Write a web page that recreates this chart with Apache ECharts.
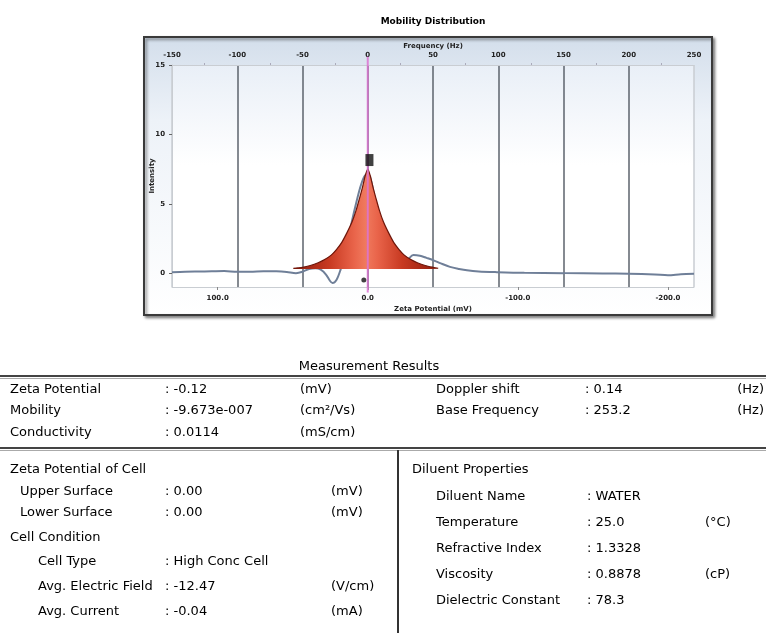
<!DOCTYPE html>
<html>
<head>
<meta charset="utf-8">
<script src="https://cdn.jsdelivr.net/npm/echarts@6/dist/echarts.min.js"></script>
<style>
html, body { margin: 0; padding: 0; background: #fff; }
#main { width: 766px; height: 633px; }
</style>
</head>
<body>
<div id="main"></div>
<script>
// axes
var freqMin = -150, freqMax = 250, freqStep = 50;
var hzPerMv = 1.15;
var zetaTicks = [100, 0, -100, -200];
var intensityTicks = [0, 5, 10, 15];

// measured spectrum (Hz, intensity)
var rawFreq = [-150,-140,-125,-110,-100,-90,-80,-70,-62,-55,-50,-45,-40,-36,-32,-29,-27,-24,-21,-18,-15,-12,-9,-6,-3,0,3,6,10,15,20,25,29,32,35,40,45,50,56,63,70,76,85,99,120,150,180,200,220,230,240,250];
var rawIntensity = [0.07,0.1,0.12,0.15,0.1,0.1,0.14,0.13,0.08,0.0,0.1,0.3,0.35,0.25,-0.1,-0.55,-0.72,-0.5,0.2,1.2,2.5,3.8,5.0,6.1,6.9,7.2,6.5,5.0,3.3,2.0,1.2,0.75,0.7,1.1,1.3,1.25,1.1,0.94,0.7,0.45,0.3,0.2,0.12,0.07,0.02,0.0,-0.02,-0.05,-0.1,-0.15,-0.08,-0.05];

// fitted peak
var peakFreq = [-57,-50,-44,-38,-33,-28,-24,-20,-16,-12,-9,-6,-4,-2,0,2,4,6,9,12,16,20,24,28,33,38,44,50,54];
var peakIntensity = [0.35,0.42,0.55,0.75,0.98,1.3,1.7,2.2,2.9,3.7,4.5,5.5,6.2,7.0,7.5,7.0,6.2,5.5,4.5,3.7,2.9,2.2,1.7,1.3,0.98,0.75,0.55,0.42,0.35];
var peakBase = 0.3;
var peakMarker = [1.3, 8.15];
var zeroMarker = [-3, -0.5];
var centerLine = [[0, -1.4], [0, 15.6]];

// measurement results table
var resultLabels = ['Zeta Potential', 'Mobility', 'Conductivity'];
var resultValues = [': -0.12', ': -9.673e-007', ': 0.0114'];
var resultUnits = ['(mV)', '(cm²/Vs)', '(mS/cm)'];
var freqLabels = ['Doppler shift', 'Base Frequency'];
var freqValues = [': 0.14', ': 253.2'];
var freqUnits = ['(Hz)', '(Hz)'];
var cellLabels = ['Zeta Potential of Cell', 'Upper Surface', 'Lower Surface', 'Cell Condition', 'Cell Type', 'Avg. Electric Field', 'Avg. Current'];
var cellValues = ['', ': 0.00', ': 0.00', '', ': High Conc Cell', ': -12.47', ': -0.04'];
var cellUnits = ['', '(mV)', '(mV)', '', '', '(V/cm)', '(mA)'];
var diluentLabels = ['Diluent Properties', 'Diluent Name', 'Temperature', 'Refractive Index', 'Viscosity', 'Dielectric Constant'];
var diluentValues = ['', ': WATER', ': 25.0', ': 1.3328', ': 0.8878', ': 78.3'];
var diluentUnits = ['', '', '(°C)', '', '(cP)', ''];

function pairs(xs, ys) {
    return xs.map(function (x, i) { return [x, ys[i]]; });
}

var tableFont = '13px "DejaVu Sans", sans-serif';
var tinyFont = { fontSize: 7, fontWeight: 'bold', color: '#222', fontFamily: 'DejaVu Sans' };

function txt(s, x, y, extra) {
    var style = { text: s, x: x, y: y, font: tableFont, fill: '#000', textVerticalAlign: 'middle' };
    for (var k in extra || {}) style[k] = extra[k];
    return { type: 'text', silent: true, style: style };
}

var graphics = [
    // outer frame of the chart
    {
        type: 'rect', z: -10, silent: true,
        shape: { x: 144, y: 37, width: 568, height: 278 },
        style: {
            fill: new echarts.graphic.LinearGradient(0, 0, 0, 1, [
                { offset: 0, color: '#d3deeb' },
                { offset: 0.3, color: '#edf2f8' },
                { offset: 1, color: '#ffffff' }
            ]),
            stroke: '#3a3a3a', lineWidth: 2,
            shadowBlur: 3, shadowColor: 'rgba(0,0,0,0.45)', shadowOffsetX: 2, shadowOffsetY: 2
        }
    },
    // plot background
    {
        type: 'rect', z: -9, silent: true,
        shape: { x: 172, y: 65, width: 522, height: 222 },
        style: {
            fill: new echarts.graphic.LinearGradient(0, 0, 0, 1, [
                { offset: 0, color: '#e9eff7' },
                { offset: 0.45, color: '#ffffff' },
                { offset: 1, color: '#ffffff' }
            ])
        }
    },
    txt('Mobility Distribution', 433, 22, { font: 'bold 9px "DejaVu Sans", sans-serif', textAlign: 'center' }),
    txt('Measurement Results', 369, 367, { textAlign: 'center' }),
    // table rules
    { type: 'line', silent: true, shape: { x1: 0, y1: 376, x2: 766, y2: 376 }, style: { stroke: '#444', lineWidth: 2 } },
    { type: 'line', silent: true, shape: { x1: 0, y1: 378.5, x2: 766, y2: 378.5 }, style: { stroke: '#aaa', lineWidth: 1 } },
    { type: 'line', silent: true, shape: { x1: 0, y1: 448, x2: 766, y2: 448 }, style: { stroke: '#444', lineWidth: 2 } },
    { type: 'line', silent: true, shape: { x1: 0, y1: 450.5, x2: 766, y2: 450.5 }, style: { stroke: '#aaa', lineWidth: 1 } },
    { type: 'line', silent: true, shape: { x1: 398, y1: 450, x2: 398, y2: 633 }, style: { stroke: '#333', lineWidth: 2 } }
];

var resultRowY = [390, 411, 433];
resultLabels.forEach(function (s, i) {
    graphics.push(txt(s, 10, resultRowY[i]));
    graphics.push(txt(resultValues[i], 165, resultRowY[i]));
    graphics.push(txt(resultUnits[i], 300, resultRowY[i]));
});
freqLabels.forEach(function (s, i) {
    graphics.push(txt(s, 436, resultRowY[i]));
    graphics.push(txt(freqValues[i], 585, resultRowY[i]));
    graphics.push(txt(freqUnits[i], 764, resultRowY[i], { textAlign: 'right' }));
});

var cellRowY = [470, 492, 513, 538, 562, 587, 612];
var cellIndent = [10, 20, 20, 10, 38, 38, 38];
cellLabels.forEach(function (s, i) {
    graphics.push(txt(s, cellIndent[i], cellRowY[i]));
    if (cellValues[i]) graphics.push(txt(cellValues[i], 165, cellRowY[i]));
    if (cellUnits[i]) graphics.push(txt(cellUnits[i], 331, cellRowY[i]));
});

var diluentRowY = [470, 497, 523, 549, 575, 601];
var diluentIndent = [412, 436, 436, 436, 436, 436];
diluentLabels.forEach(function (s, i) {
    graphics.push(txt(s, diluentIndent[i], diluentRowY[i]));
    if (diluentValues[i]) graphics.push(txt(diluentValues[i], 587, diluentRowY[i]));
    if (diluentUnits[i]) graphics.push(txt(diluentUnits[i], 705, diluentRowY[i]));
});

// vertical grid colour per frequency tick: border ticks pale, inner ones dark
var gridColors = [];
for (var f = freqMin; f <= freqMax; f += freqStep) {
    gridColors.push(f === freqMin || f === freqMax ? '#c9cdd2' : '#5c636d');
}

var chart = echarts.init(document.getElementById('main'), null, { renderer: 'canvas' });

chart.setOption({
    animation: false,
    backgroundColor: '#fff',
    graphic: graphics,
    grid: { left: 172, top: 65, right: 72, bottom: 346, containLabel: false },
    xAxis: [
        {
            type: 'value', position: 'top',
            min: freqMin, max: freqMax, interval: freqStep,
            name: 'Frequency (Hz)', nameLocation: 'middle', nameGap: 15, nameMoveOverlap: false,
            nameTextStyle: tinyFont,
            axisLine: { show: true, onZero: false, lineStyle: { color: '#c9cdd2', width: 1 } },
            axisTick: { show: false },
            minorTick: { show: true, splitNumber: 2, length: 2, lineStyle: { color: '#aab' } },
            axisLabel: Object.assign({ margin: 6 }, tinyFont),
            splitLine: { show: true, lineStyle: { color: gridColors, width: 1.5 } }
        },
        {
            type: 'value', position: 'bottom', inverse: true,
            min: -freqMax / hzPerMv, max: -freqMin / hzPerMv,
            name: 'Zeta Potential (mV)', nameLocation: 'middle', nameGap: 19, nameMoveOverlap: false,
            nameTextStyle: tinyFont,
            axisLine: { show: true, onZero: false, lineStyle: { color: '#c9cdd2', width: 1 } },
            axisTick: { show: true, customValues: zetaTicks, length: 3, lineStyle: { color: '#888' } },
            axisLabel: Object.assign({
                margin: 8, customValues: zetaTicks,
                formatter: function (v) { return v.toFixed(1); }
            }, tinyFont),
            splitLine: { show: false }
        }
    ],
    yAxis: {
        type: 'value', min: -1, max: 15,
        name: 'Intensity', nameLocation: 'middle', nameGap: 16, nameRotate: 90, nameMoveOverlap: false,
        nameTextStyle: tinyFont,
        axisLine: { show: true, onZero: false, lineStyle: { color: '#c9cdd2', width: 1 } },
        axisTick: { show: true, customValues: intensityTicks, length: 3, lineStyle: { color: '#666' } },
        axisLabel: Object.assign({ margin: 7, customValues: intensityTicks }, tinyFont),
        splitLine: { show: false }
    },
    series: [
        {
            name: 'raw', type: 'line', xAxisIndex: 0, z: 2,
            data: pairs(rawFreq, rawIntensity),
            smooth: 0.3, showSymbol: false,
            lineStyle: { color: '#6f7f98', width: 2 }
        },
        {
            name: 'fit', type: 'line', xAxisIndex: 0, z: 3,
            data: pairs(peakFreq, peakIntensity),
            smooth: 0.25, showSymbol: false,
            lineStyle: { color: '#6e160a', width: 1.2 },
            areaStyle: {
                origin: peakBase,
                opacity: 1,
                color: new echarts.graphic.LinearGradient(0, 0, 1, 0, [
                    { offset: 0, color: '#8f1c0c' },
                    { offset: 0.25, color: '#c83a22' },
                    { offset: 0.42, color: '#e9644a' },
                    { offset: 0.5, color: '#f07a5e' },
                    { offset: 0.58, color: '#e9644a' },
                    { offset: 0.75, color: '#c83a22' },
                    { offset: 1, color: '#8f1c0c' }
                ])
            }
        },
        {
            name: 'center', type: 'line', xAxisIndex: 0, z: 4, clip: false,
            data: centerLine, showSymbol: false,
            lineStyle: { color: '#dc74d2', width: 2, opacity: 0.85 }
        },
        {
            name: 'marker', type: 'scatter', xAxisIndex: 0, z: 5,
            data: [peakMarker], symbol: 'rect', symbolSize: [8, 12],
            itemStyle: { color: '#111' }
        },
        {
            name: 'zero', type: 'scatter', xAxisIndex: 0, z: 5,
            data: [zeroMarker], symbol: 'circle', symbolSize: 5,
            itemStyle: { color: '#111' }
        }
    ]
});
</script>
</body>
</html>
